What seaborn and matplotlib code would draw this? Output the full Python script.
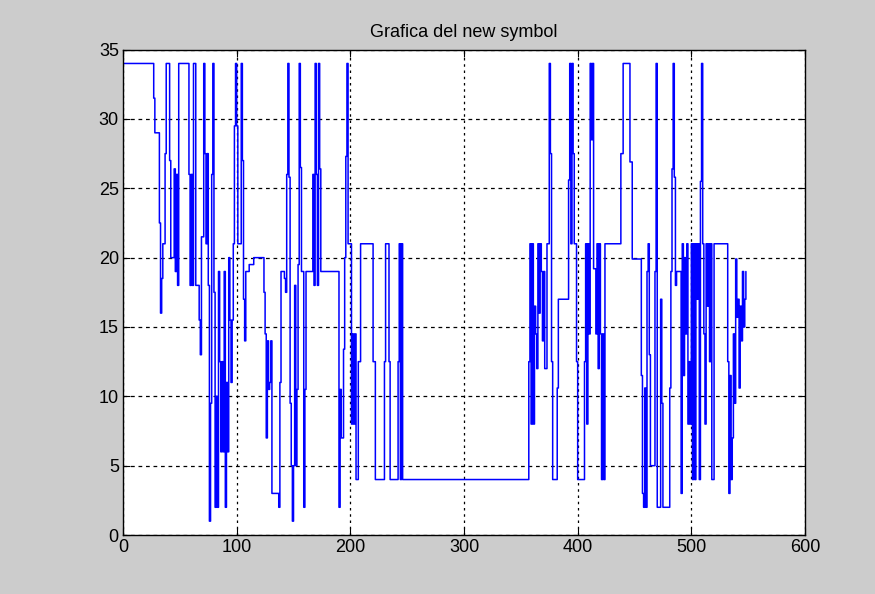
import numpy as np
import pandas as pd
import matplotlib
matplotlib.use("Agg")
import matplotlib.pyplot as plt
import seaborn as sns

# Symbol level held at each sample, stored as runs: level and how many samples it lasts
levels = [
    34, 31.5, 29, 22.5, 16, 18.5, 21, 27.5, 34, 27, 20, 26.4, 19, 26, 18, 34, 26, 18, 26, 18,
    34, 18, 15.5, 13, 21.5, 34, 27.5, 21, 27.5, 18, 1, 9.5, 26, 34, 17.5, 2, 10, 2, 19, 12.5,
    6, 12.5, 6, 19, 2, 11, 6, 20, 15.5, 11, 15.5, 21, 29.5, 34, 29.5, 21, 34, 27, 17, 14,
    19, 19.5, 20, 17.5, 14.5, 7, 14, 10.5, 11, 14, 3, 2, 11, 19, 18.5, 17.5, 26, 34, 25.8, 9.5,
    5, 1, 5, 18, 5, 10.5, 19.5, 34, 26.5, 19, 2, 10.5, 19, 26, 18, 34, 26, 18, 34, 26.4,
    19, 2, 10.5, 7, 13.4, 20, 27.3, 34, 21, 8, 14.5, 8, 14.5, 4, 12.5, 21, 12.5, 4, 12.5, 21,
    12.5, 4, 12.5, 21, 4, 21, 4,
    12.5, 21, 8, 21, 8, 16.5, 14.5, 12, 21, 16, 21, 19, 14, 19, 12, 21, 34, 27.5, 12.5, 4,
    10.6, 17, 25.6, 34, 21, 34, 27.5, 21, 12.5, 4, 12.5, 21, 8, 21, 14.5, 34, 28.5, 34, 19.2, 14.5,
    21, 12, 21, 14.5, 4, 14.5, 4, 21, 27.5, 34, 26.9, 19.9, 11.5, 3, 2, 10.6, 2, 19, 21, 13,
    5, 19, 34, 2, 17, 9.5, 2, 10.6, 19, 26.4, 34, 25.8, 18, 19, 3, 21, 11.5, 20, 14.5, 21,
    8, 12.5, 8, 21, 4, 21, 4, 21, 17, 21, 4, 25.5, 34, 21, 14.5, 8, 21, 16.5, 21, 12.5,
    21, 4, 21, 12.5, 3, 11.5, 4, 7, 14.5, 9.5, 19.9, 15.7, 17, 10.6, 16.5, 14, 19, 15, 17, 19,
]
run_lengths = [
    27, 1, 4, 1, 1, 1, 2, 1, 3, 1, 3, 1, 1, 1, 1, 9, 1, 1, 1, 1,
    2, 3, 1, 1, 2, 1, 1, 1, 1, 1, 1, 1, 1, 1, 1, 1, 1, 1, 1, 1,
    1, 1, 1, 1, 1, 1, 1, 1, 1, 1, 1, 1, 1, 1, 1, 3, 1, 1, 1, 1,
    3, 4, 9, 1, 1, 1, 1, 1, 1, 1, 6, 1, 1, 3, 1, 1, 1, 1, 1, 1,
    1, 1, 1, 1, 1, 1, 1, 1, 1, 2, 1, 1, 6, 1, 1, 1, 1, 1, 1, 1,
    16, 1, 1, 2, 1, 1, 1, 1, 3, 1, 1, 1, 1, 2, 2, 11, 2, 8, 1, 3,
    1, 7, 1, 1, 1, 1, 111,
    1, 1, 1, 1, 1, 1, 1, 1, 1, 1, 1, 1, 1, 1, 2, 2, 1, 1, 1, 4,
    1, 9, 1, 1, 1, 1, 1, 2, 1, 6, 1, 1, 1, 1, 1, 1, 1, 1, 2, 1,
    1, 1, 1, 1, 1, 1, 1, 14, 2, 6, 2, 8, 1, 1, 1, 1, 1, 1, 1, 1,
    4, 1, 1, 3, 1, 1, 6, 1, 1, 1, 1, 1, 1, 4, 1, 1, 1, 1, 1, 1,
    1, 1, 1, 1, 1, 1, 1, 1, 1, 1, 1, 1, 1, 1, 1, 1, 1, 1, 1, 1,
    1, 2, 12, 1, 1, 1, 1, 1, 1, 1, 1, 1, 1, 1, 1, 1, 1, 1, 1, 1,
]

x_ticks = [0, 100, 200, 300, 400, 500, 600]
y_ticks = [0, 5, 10, 15, 20, 25, 30, 35]
title_text = "Grafica del new symbol"

symbol = np.repeat(levels, run_lengths)
df = pd.DataFrame({"sample": np.arange(len(symbol)), "symbol": symbol})

sns.set_style("white")
plt.rcParams["font.family"] = ["Liberation Sans", "DejaVu Sans"]
plt.rcParams["text.color"] = "black"

fig = plt.figure(figsize=(8.75, 5.94), dpi=100, facecolor="#cccccc")
ax = fig.add_axes([0.1406, 0.0993, 0.7794, 0.8172])
ax.set_facecolor("white")

sns.lineplot(data=df, x="sample", y="symbol", ax=ax, color="#0000ff",
             linewidth=1.1, drawstyle="steps-post", estimator=None)

ax.set_xlim(0, 600)
ax.set_ylim(0, 35)
ax.set_xticks(x_ticks)
ax.set_yticks(y_ticks)
ax.set_xticklabels([str(t) for t in x_ticks], fontsize=13, color="black")
ax.set_yticklabels([str(t) for t in y_ticks], fontsize=13, color="black")
ax.set_xlabel("")
ax.set_ylabel("")

# Dotted grid in the classic style, behind the data line
ax.set_axisbelow(True)
ax.xaxis.grid(True, color="black", linestyle=(0, (2, 3)), linewidth=0.9)
ax.yaxis.grid(True, color="black", linestyle=(0, (3, 3)), linewidth=0.9)

for side in ax.spines.values():
    side.set_visible(True)
    side.set_color("black")
    side.set_linewidth(1.0)

ax.tick_params(direction="in", length=5, width=0.8, top=True, right=True,
               bottom=True, left=True, colors="black", labelcolor="black", pad=3)

ax.set_title(title_text, fontsize=13, pad=9, color="black")

fig.savefig("out.png", dpi=100, facecolor=fig.get_facecolor())
